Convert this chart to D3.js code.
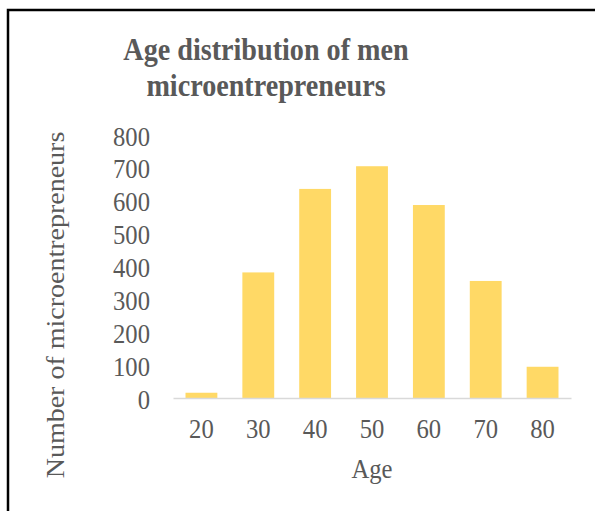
<!DOCTYPE html>
<html>
<head>
<meta charset="utf-8">
<script src="https://cdn.jsdelivr.net/npm/d3@7"></script>
<style>
  html, body { margin: 0; padding: 0; background: #fff; }
  svg { display: block; }
  text { font-family: "Liberation Serif", "Times New Roman", serif; fill: #595959; }
</style>
</head>
<body>
<svg id="chart" width="595" height="511"></svg>
<script>
// データ
const ages = ['20', '30', '40', '50', '60', '70', '80'];
const counts = [16, 382, 636, 705, 587, 356, 95];
const yTicks = [0, 100, 200, 300, 400, 500, 600, 700, 800];
const titleLines = ['Age distribution of men', 'microentrepreneurs'];

const svg = d3.select('#chart');
const squeeze = 0.88; // 元画像は横方向に少し潰れている

// 外枠（右端と下端は画面外）
svg.append('rect')
  .attr('x', 8).attr('y', 10)
  .attr('width', 620).attr('height', 540)
  .attr('fill', 'none')
  .attr('stroke', '#000')
  .attr('stroke-width', 2.5);

const x = d3.scaleBand()
  .domain(ages)
  .range([173, 571])
  .paddingInner(0.44)
  .paddingOuter(0.22);

const y = d3.scaleLinear()
  .domain([0, 800])
  .range([398, 135]);

// 棒
svg.append('g')
  .selectAll('rect')
  .data(ages)
  .join('rect')
  .attr('x', d => x(d))
  .attr('width', x.bandwidth())
  .attr('y', (d, i) => y(counts[i]))
  .attr('height', (d, i) => y(0) - y(counts[i]))
  .attr('fill', '#FFD966');

// x軸
const xAxis = svg.append('g')
  .attr('transform', `translate(0,${y(0)})`)
  .call(d3.axisBottom(x).tickSize(0).tickPadding(0));
xAxis.select('.domain').attr('stroke', '#D9D9D9').attr('stroke-width', 1.5);
xAxis.selectAll('.tick text')
  .attr('y', 0).attr('dy', null)
  .attr('transform', `translate(0,40) scale(${squeeze},1)`)
  .style('font-size', '28px')
  .attr('fill', '#595959');

// y軸（線なし）
const yAxis = svg.append('g')
  .attr('transform', 'translate(150,0)')
  .call(d3.axisLeft(y).tickValues(yTicks).tickSize(0).tickPadding(0));
yAxis.select('.domain').remove();
yAxis.selectAll('.tick text')
  .attr('x', 0).attr('dy', null)
  .attr('transform', `translate(0,10) scale(${squeeze},1)`)
  .style('font-size', '28px')
  .attr('fill', '#595959');

// タイトル
svg.append('g')
  .selectAll('text')
  .data(titleLines)
  .join('text')
  .attr('transform', (d, i) => `translate(266,${60 + i * 36}) scale(${squeeze},1)`)
  .attr('text-anchor', 'middle')
  .style('font-size', '32px')
  .style('font-weight', 'bold')
  .text(d => d);

// 軸タイトル
svg.append('text')
  .attr('transform', `translate(372,478) scale(${squeeze},1)`)
  .attr('text-anchor', 'middle')
  .style('font-size', '28px')
  .text('Age');

svg.append('text')
  .attr('transform', `translate(64,305) scale(${squeeze},1) rotate(-90)`)
  .attr('text-anchor', 'middle')
  .style('font-size', '28px')
  .text('Number of microentrepreneurs');
</script>
</body>
</html>
